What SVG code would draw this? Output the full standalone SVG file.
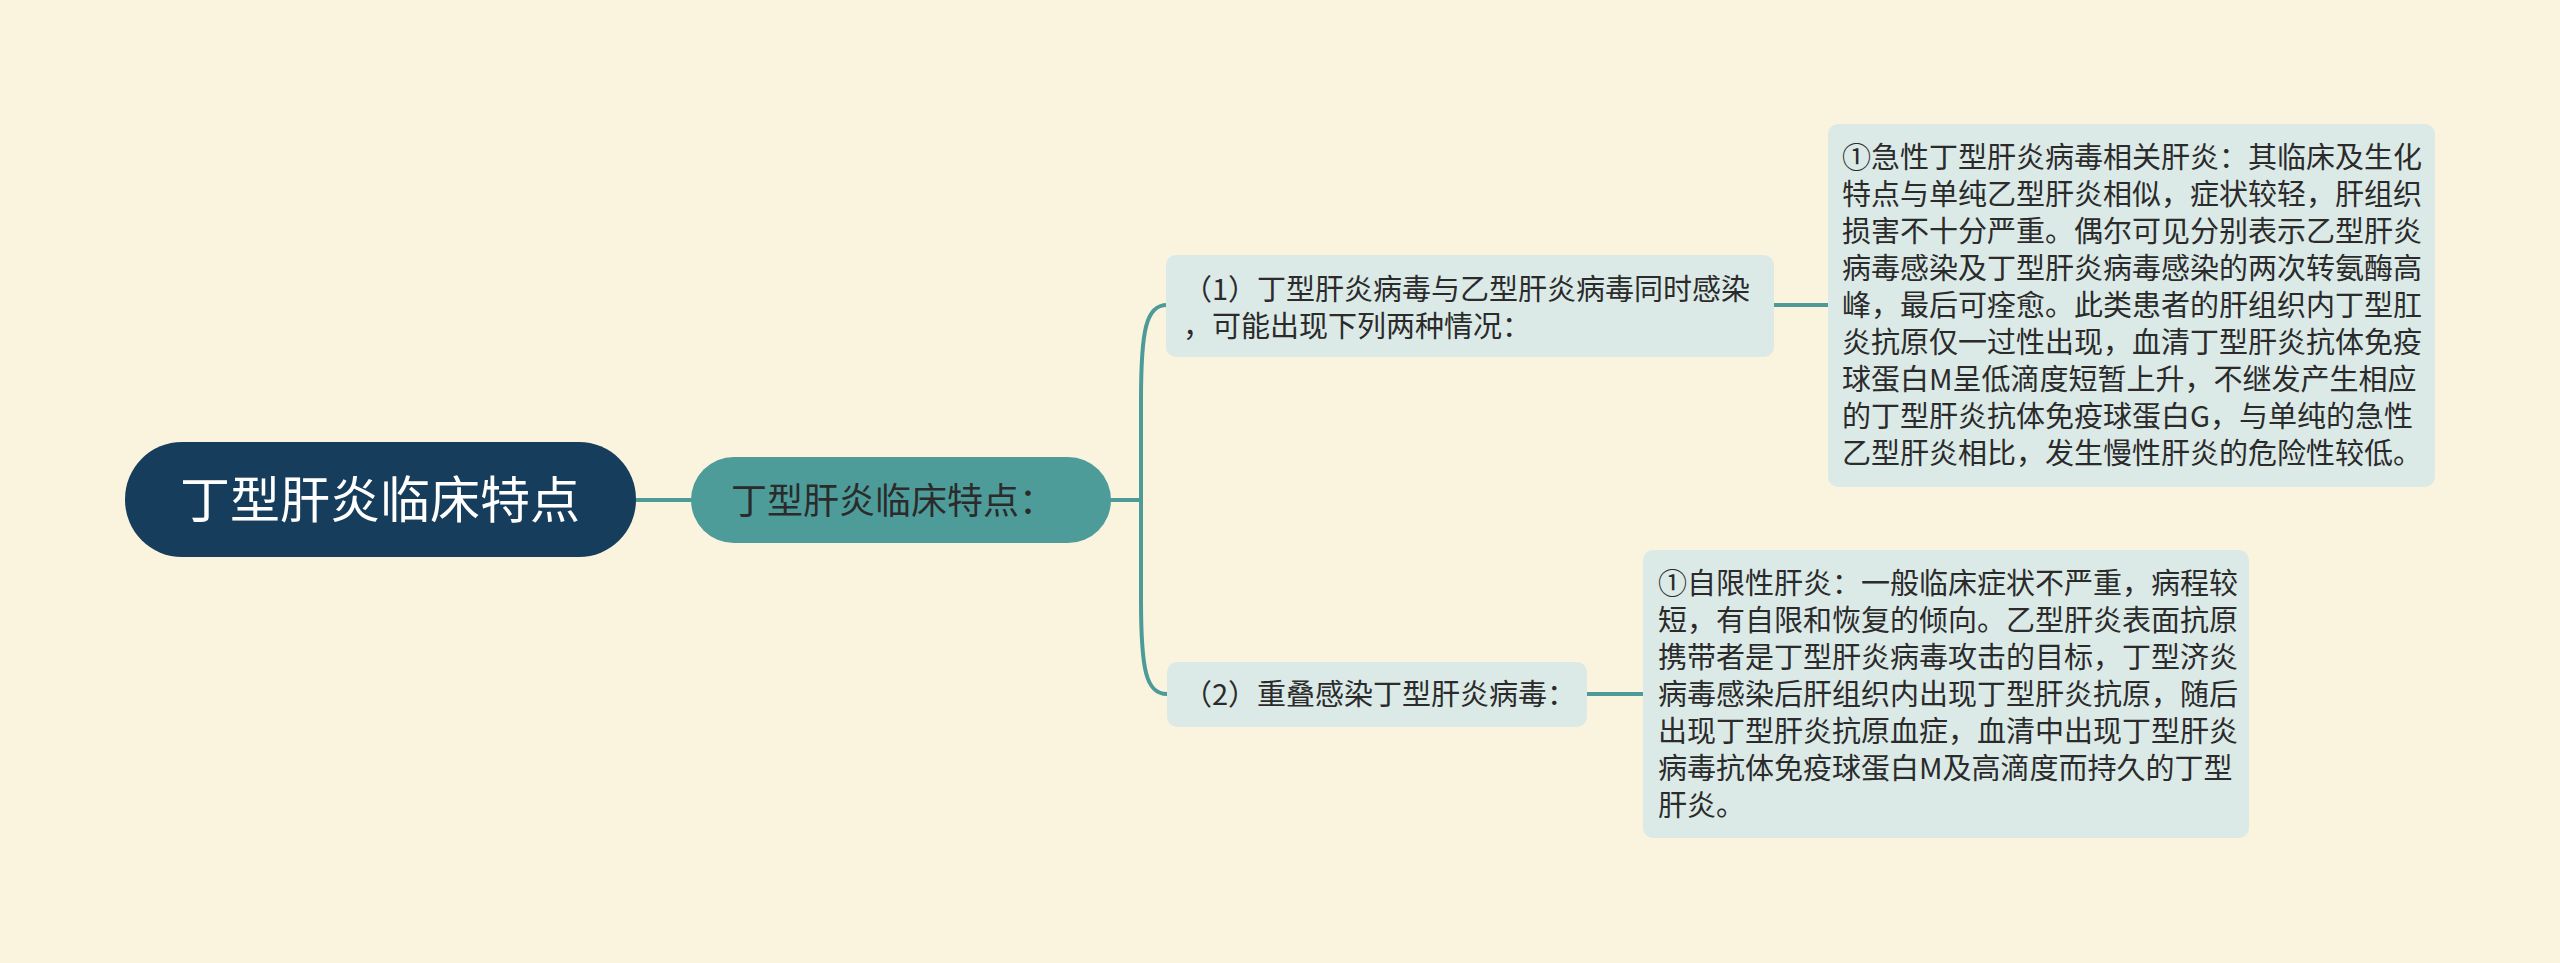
<svg xmlns="http://www.w3.org/2000/svg" width="2560" height="963" viewBox="0 0 2560 963">
<style>
.t{font-family:"Noto Sans CJK SC","Noto Sans",sans-serif;fill:#2b2b2b;}
.s{font-size:29px;}
.leaf{fill:#dbe9e7;}
.conn{fill:none;stroke:#4d9b98;stroke-width:4;}
</style>
<rect width="2560" height="963" fill="#faf4df"/>
<g id="connectors">
<path class="conn" d="M636,500 L692,500"/>
<path class="conn" d="M1110,500 L1141,500"/>
<path class="conn" d="M1167,305 C1146,305 1141,330 1141,400 L1141,600 C1141,670 1146,694 1167,694"/>
<path class="conn" d="M1773,305 L1829,305"/>
<path class="conn" d="M1586,694 L1644,694"/>
</g>
<g id="root">
<rect x="125" y="442" width="511" height="115" rx="57" fill="#173d5c"/>
<text x="380" y="518" text-anchor="middle" style="font-family:'Noto Sans CJK SC','Noto Sans',sans-serif;font-size:50px;fill:#ffffff;">丁型肝炎临床特点</text>
</g>
<g id="sub">
<rect x="691" y="457" width="420" height="86" rx="43" fill="#4e9c9a"/>
<text class="t" x="731" y="514" style="font-size:36px;">丁型肝炎临床特点：</text>
</g>
<g id="n1">
<rect class="leaf" x="1166" y="255" width="608" height="102" rx="10"/>
<text class="t s" x="1183" y="300">（1）丁型肝炎病毒与乙型肝炎病毒同时感染</text>
<text class="t s" x="1183" y="337">，可能出现下列两种情况：</text>
</g>
<g id="n2">
<rect class="leaf" x="1167" y="662" width="420" height="65" rx="10"/>
<text class="t s" x="1183" y="705">（2）重叠感染丁型肝炎病毒：</text>
</g>
<g id="n3">
<rect class="leaf" x="1828" y="124" width="607" height="363" rx="10"/>
<text class="t s" x="1842" y="168">①急性丁型肝炎病毒相关肝炎：其临床及生化</text>
<text class="t s" x="1842" y="205">特点与单纯乙型肝炎相似，症状较轻，肝组织</text>
<text class="t s" x="1842" y="242">损害不十分严重。偶尔可见分别表示乙型肝炎</text>
<text class="t s" x="1842" y="279">病毒感染及丁型肝炎病毒感染的两次转氨酶高</text>
<text class="t s" x="1842" y="316">峰，最后可痊愈。此类患者的肝组织内丁型肛</text>
<text class="t s" x="1842" y="353">炎抗原仅一过性出现，血清丁型肝炎抗体免疫</text>
<text class="t s" x="1842" y="390">球蛋白M呈低滴度短暂上升，不继发产生相应</text>
<text class="t s" x="1842" y="427">的丁型肝炎抗体免疫球蛋白G，与单纯的急性</text>
<text class="t s" x="1842" y="464">乙型肝炎相比，发生慢性肝炎的危险性较低。</text>
</g>
<g id="n4">
<rect class="leaf" x="1643" y="550" width="606" height="288" rx="10"/>
<text class="t s" x="1658" y="594">①自限性肝炎：一般临床症状不严重，病程较</text>
<text class="t s" x="1658" y="631">短，有自限和恢复的倾向。乙型肝炎表面抗原</text>
<text class="t s" x="1658" y="668">携带者是丁型肝炎病毒攻击的目标，丁型济炎</text>
<text class="t s" x="1658" y="705">病毒感染后肝组织内出现丁型肝炎抗原，随后</text>
<text class="t s" x="1658" y="742">出现丁型肝炎抗原血症，血清中出现丁型肝炎</text>
<text class="t s" x="1658" y="779">病毒抗体免疫球蛋白M及高滴度而持久的丁型</text>
<text class="t s" x="1658" y="816">肝炎。</text>
</g>
</svg>
